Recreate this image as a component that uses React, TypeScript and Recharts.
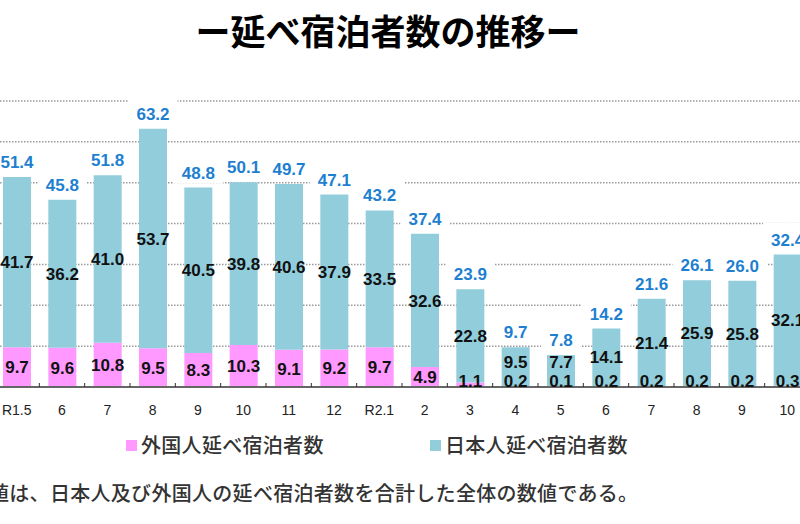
import { BarChart, Bar, XAxis, YAxis, CartesianGrid, LabelList } from 'recharts';

const months = ['R1.5', '6', '7', '8', '9', '10', '11', '12', 'R2.1', '2', '3', '4', '5', '6', '7', '8', '9', '10'];
const foreign = [9.7, 9.6, 10.8, 9.5, 8.3, 10.3, 9.1, 9.2, 9.7, 4.9, 1.1, 0.2, 0.1, 0.2, 0.2, 0.2, 0.2, 0.3];
const japanese = [41.7, 36.2, 41.0, 53.7, 40.5, 39.8, 40.6, 37.9, 33.5, 32.6, 22.8, 9.5, 7.7, 14.1, 21.4, 25.9, 25.8, 32.1];
const totals = [51.4, 45.8, 51.8, 63.2, 48.8, 50.1, 49.7, 47.1, 43.2, 37.4, 23.9, 9.7, 7.8, 14.2, 21.6, 26.1, 26.0, 32.4];
const seriesNames = ['外国人延べ宿泊者数', '日本人延べ宿泊者数'];
const yTicks = [0, 10, 20, 30, 40, 50, 60, 70];

const rows = months.map((m, i) => ({
    month: m,
    foreign: foreign[i],
    japanese: japanese[i],
    total: totals[i],
}));

const PINK = '#FF99FF';
const BLUE = '#92CDDC';
const TOTAL_BLUE = '#1E7FD0';
const NUM_FONT = '"Liberation Sans", Arial, sans-serif';
const JP_FONT = '"Noto Sans CJK JP", "Noto Sans", sans-serif';

const CHART_W = 816;
const BAND = CHART_W / months.length;

// rough width of a bold Arial number string
const textWidth = (s: string, size: number) =>
    s.split('').reduce((w, c) => w + (c === '.' ? 0.278 : 0.556) * size, 0);

function MonthTick(props: any) {
    const { x, y, payload, index } = props;
    const bx = x - BAND / 2;
    return (
        <g>
            {index > 0 && <line x1={bx} x2={bx} y1={y - 8} y2={y - 12} stroke="#333" strokeWidth={1} />}
            <text x={x} y={y} dy={20} textAnchor="middle" fontSize={14} fontFamily={NUM_FONT} fill="#222">
                {payload.value}
            </text>
        </g>
    );
}

function ForeignLabel(props: any) {
    const { x, y, width, height, value } = props;
    const cy = Math.min(y + height / 2, y + height - 6);
    return (
        <text x={x + width / 2} y={cy} dy="0.36em" textAnchor="middle" fontSize={17} fontWeight="bold"
            fontFamily={NUM_FONT} fill="#111">
            {Number(value).toFixed(1)}
        </text>
    );
}

function JapaneseLabel(props: any) {
    const { x, y, width, height, value, index } = props;
    const unit = height / value;
    const base = y + height + foreign[index] * unit;
    const cy = Math.min(y + height / 2, base - 25);
    return (
        <text x={x + width / 2} y={cy} dy="0.36em" textAnchor="middle" fontSize={17} fontWeight="bold"
            fontFamily={NUM_FONT} fill="#111">
            {Number(value).toFixed(1)}
        </text>
    );
}

function TotalLabel(props: any) {
    const { x, y, width, value } = props;
    const s = Number(value).toFixed(1);
    const w = textWidth(s, 17);
    const cx = x + width / 2;
    const by = y - 9;
    return (
        <g>
            <rect x={cx - w / 2 - 8} y={by - 23} width={w + 16} height={28} fill="#fff" />
            <text x={cx} y={by} textAnchor="middle" fontSize={17} fontWeight="bold"
                fontFamily={NUM_FONT} fill={TOTAL_BLUE}>
                {s}
            </text>
        </g>
    );
}

export default function App() {
    return (
        <div style={{ position: 'absolute', left: 0, top: 0, width: 800, height: 524, overflow: 'hidden', background: '#fff' }}>
            <div style={{
                position: 'absolute', left: 0, width: 776, top: 8, textAlign: 'center',
                fontFamily: JP_FONT, fontWeight: 'bold', fontSize: 35, lineHeight: '44px', color: '#000',
            }}>
                ー延べ宿泊者数の推移ー
            </div>

            <div style={{ position: 'absolute', left: -6, top: 0 }}>
                <BarChart width={CHART_W} height={430} data={rows} barSize={28}
                    margin={{ top: 101, right: 0, left: 0, bottom: 0 }} style={{ overflow: 'visible' }}>
                    <CartesianGrid vertical={false} stroke="#9a9a9a" strokeWidth={1.5} strokeDasharray="1.5 1.5" />
                    <XAxis dataKey="month" height={43} interval={0} tickLine={false}
                        axisLine={{ stroke: '#666', strokeWidth: 2 }} tick={<MonthTick />} />
                    <YAxis hide domain={[0, 70]} ticks={yTicks} />
                    <Bar dataKey="foreign" stackId="a" fill={PINK} name={seriesNames[0]} isAnimationActive={false}>
                        <LabelList dataKey="foreign" content={<ForeignLabel />} />
                    </Bar>
                    <Bar dataKey="japanese" stackId="a" fill={BLUE} name={seriesNames[1]} isAnimationActive={false}>
                        <LabelList dataKey="japanese" content={<JapaneseLabel />} />
                        <LabelList dataKey="total" content={<TotalLabel />} />
                    </Bar>
                </BarChart>
            </div>

            <div style={{ position: 'absolute', top: 431, left: 0, fontFamily: JP_FONT, fontSize: 20, fontWeight: 500, letterSpacing: 0.3, color: '#333', lineHeight: '28px' }}>
                {seriesNames.map((n, i) => (
                    <span key={n} style={{ position: 'absolute', left: i === 0 ? 126 : 430, whiteSpace: 'nowrap' }}>
                        <span style={{
                            display: 'inline-block', width: 11, height: 11, background: i === 0 ? PINK : BLUE,
                            marginRight: 4, verticalAlign: 'middle', position: 'relative', top: -2,
                        }} />
                        {n}
                    </span>
                ))}
            </div>

            <div style={{
                position: 'absolute', top: 479, left: -11, whiteSpace: 'nowrap', fontFamily: JP_FONT,
                fontSize: 20, fontWeight: 500, letterSpacing: 0.3, color: '#333', lineHeight: '28px',
            }}>
                値は、日本人及び外国人の延べ宿泊者数を合計した全体の数値である。
            </div>
        </div>
    );
}
